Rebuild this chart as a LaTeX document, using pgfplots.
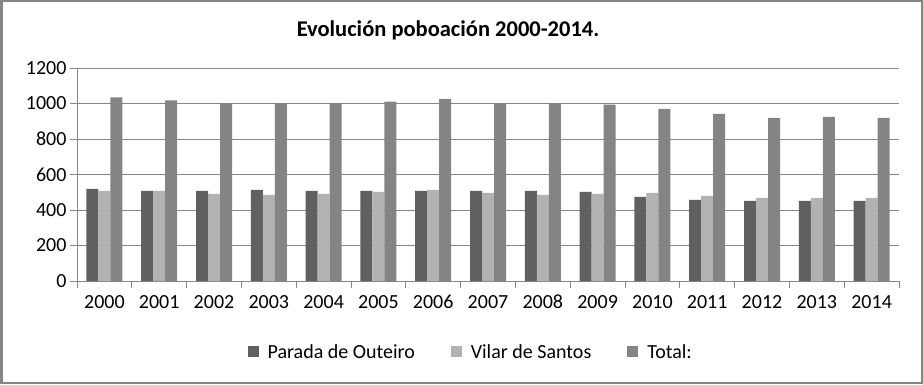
\documentclass[border=0pt]{standalone}
\usepackage{pgfplots}
\pgfplotsset{compat=1.18}
\usepackage{fontspec}
\setmainfont{Carlito}
\definecolor{cP}{HTML}{606060}
\definecolor{cV}{HTML}{B2B2B2}
\definecolor{cT}{HTML}{848484}
\definecolor{gridc}{HTML}{868686}
\begin{document}
\begin{tikzpicture}[x=1pt,y=1pt]
\useasboundingbox (0,0) rectangle (923,384);
\draw[line width=2.5pt, color=gridc] (1.25,1.25) rectangle (921.75,382.75);
\node[font=\fontsize{22.5}{26}\selectfont\bfseries] at (448,354) {Evolución poboación 2000-2014.};
\begin{axis}[at={(77pt,103pt)}, anchor=south west, scale only axis,
  width=822pt, height=213pt,
  ymin=0, ymax=1200, ytick={0,200,...,1200},
  xmin=-0.5, xmax=14.5,
  xtick={0,...,14},
  xticklabels={2000,2001,2002,2003,2004,2005,2006,2007,2008,2009,2010,2011,2012,2013,2014},
  minor xtick={-0.5,0.5,...,14.5},
  axis x line*=bottom, axis y line*=left,
  axis line style={gridc, line width=0.8pt},
  tick align=outside,
  major tick length=7pt, minor tick length=7pt,
  major x tick style={draw=none},
  every tick/.style={gridc, line width=0.8pt},
  minor tick style={gridc, line width=0.8pt},
  ymajorgrids, major grid style={gridc, line width=0.8pt},
  ybar=0pt, bar width=12pt,
  tick label style={font=\fontsize{20}{24}\selectfont},
  xticklabel style={text height=13pt, text depth=0pt, anchor=north, yshift=-4pt},
  /pgf/number format/assume math mode=true,
  /pgf/number format/1000 sep={},
  legend style={at={(0.479,-0.333)}, anchor=center, legend columns=3, draw=none,
    font=\fontsize{20}{24}\selectfont,
    /tikz/every odd column/.append style={column sep=7pt},
    /tikz/every even column/.append style={column sep=34pt}},
  legend image code/.code={\fill[#1] (0pt,-5.5pt) rectangle (11pt,5.5pt);},
]
\addplot[fill=cP, draw=none] coordinates {(0,519) (1,508) (2,508) (3,513) (4,508) (5,508) (6,508) (7,508) (8,508) (9,502) (10,474) (11,457) (12,451) (13,451) (14,451)};
\addplot[fill=cV, draw=none] coordinates {(0,508) (1,508) (2,491) (3,485) (4,491) (5,502) (6,513) (7,496) (8,485) (9,491) (10,496) (11,479) (12,468) (13,468) (14,468)};
\addplot[fill=cT, draw=none] coordinates {(0,1034) (1,1017) (2,1002) (3,1002) (4,1000) (5,1010) (6,1026) (7,1002) (8,1002) (9,993) (10,970) (11,942) (12,919) (13,925) (14,919)};
\legend{Parada de Outeiro, Vilar de Santos, Total:}
\end{axis}
\end{tikzpicture}
\end{document}
